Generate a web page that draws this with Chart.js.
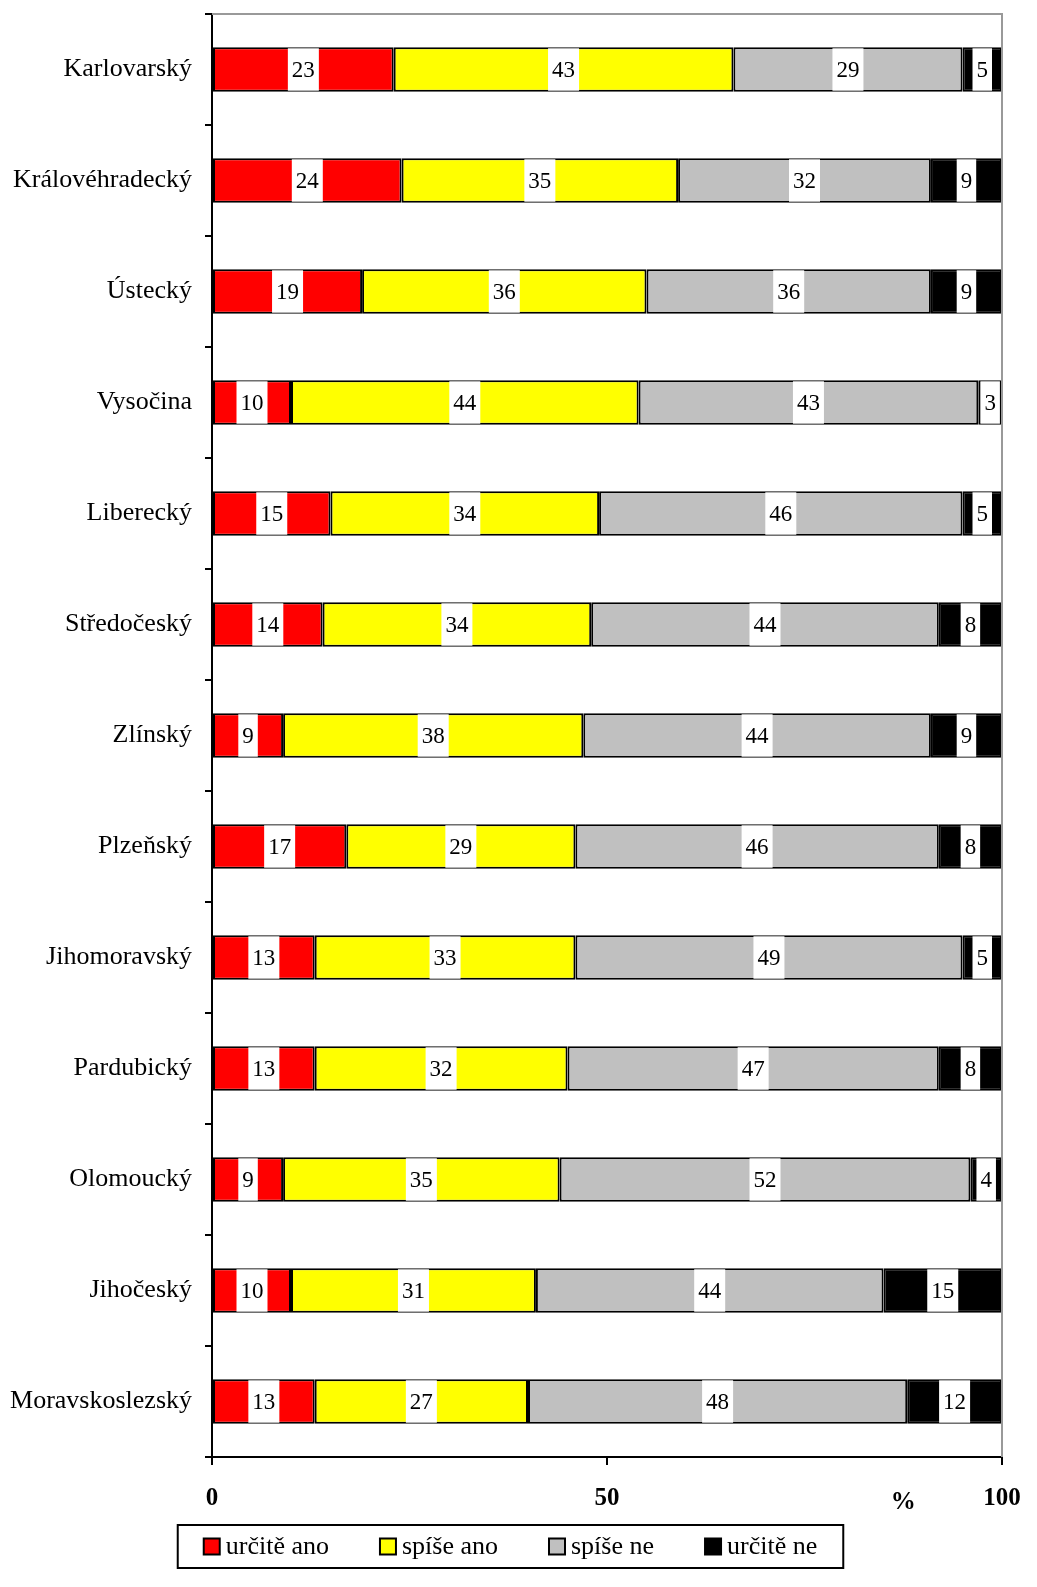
<!DOCTYPE html>
<html>
<head>
<meta charset="utf-8">
<script src="https://cdn.jsdelivr.net/npm/chart.js@4/dist/chart.umd.min.js"></script>
<style>
html, body { margin: 0; padding: 0; overflow: hidden; background: #fff; }
canvas { display: block; }
</style>
</head>
<body>
<canvas id="graf" width="1037" height="1587"></canvas>
<script>
// kraje
const kraje = ['Karlovarský', 'Královéhradecký', 'Ústecký', 'Vysočina', 'Liberecký', 'Středočeský',
    'Zlínský', 'Plzeňský', 'Jihomoravský', 'Pardubický', 'Olomoucký', 'Jihočeský', 'Moravskoslezský'];

// odpovědi v %
const urciteAno = [23, 24, 19, 10, 15, 14, 9, 17, 13, 13, 9, 10, 13];
const spiseAno  = [43, 35, 36, 44, 34, 34, 38, 29, 33, 32, 35, 31, 27];
const spiseNe   = [29, 32, 36, 43, 46, 44, 44, 46, 49, 47, 52, 44, 48];
const urciteNe  = [5, 9, 9, 3, 5, 8, 9, 8, 5, 8, 4, 15, 12];

const xTicks = [0, 50, 100];
const nazvy = ['určitě ano', 'spíše ano', 'spíše ne', 'určitě ne'];
const barvy = ['#ff0000', '#ffff00', '#c0c0c0', '#000000'];

const FONT = '"Liberation Serif", "Times New Roman", serif';
Chart.defaults.font.family = FONT;
Chart.defaults.color = '#000';

// popisky hodnot v bílém rámečku
const popisky = {
    id: 'popisky',
    afterDatasetsDraw(chart) {
        const ctx = chart.ctx;
        ctx.save();
        ctx.font = '23px ' + FONT;
        ctx.textAlign = 'center';
        ctx.textBaseline = 'middle';
        chart.data.datasets.forEach((ds, i) => {
            chart.getDatasetMeta(i).data.forEach((bar, j) => {
                const txt = String(ds.data[j]);
                const cx = (bar.x + bar.base) / 2;
                const w = ctx.measureText(txt).width + 8;
                const h = bar.height - 2;
                ctx.fillStyle = '#fff';
                ctx.fillRect(cx - w / 2, bar.y - h / 2, w, h);
                ctx.fillStyle = '#000';
                ctx.fillText(txt, cx, bar.y + 1);
            });
        });
        ctx.restore();
    }
};

// šedý rámeček nahoře a vpravo, znak %, legenda v rámečku
const ramecek = {
    id: 'ramecek',
    afterDraw(chart) {
        const ctx = chart.ctx;
        const a = chart.chartArea;
        ctx.save();
        ctx.strokeStyle = '#999';
        ctx.lineWidth = 2;
        ctx.beginPath();
        ctx.moveTo(a.left, a.top);
        ctx.lineTo(a.right, a.top);
        ctx.lineTo(a.right, a.bottom);
        ctx.stroke();

        // %
        const xs = chart.scales.x;
        ctx.font = 'bold 25px ' + FONT;
        ctx.fillStyle = '#000';
        ctx.textAlign = 'center';
        ctx.textBaseline = 'middle';
        ctx.fillText('%', xs.getPixelForValue(87.5), a.bottom + 46);

        // legenda
        ctx.font = '26px ' + FONT;
        ctx.textAlign = 'left';
        const box = 16, mezera = 6, rozestup = 51, okraj = 26;
        const sirky = nazvy.map(t => box + mezera + ctx.measureText(t).width);
        const celkem = sirky.reduce((s, w) => s + w, 0) + rozestup * (nazvy.length - 1) + 2 * okraj;
        const lx = chart.width / 2 - 8 - celkem / 2;
        const ly = chart.height - 62;
        const lh = 43;
        ctx.strokeStyle = '#000';
        ctx.lineWidth = 2;
        ctx.strokeRect(lx, ly, celkem, lh);
        let x = lx + okraj;
        const cy = ly + lh / 2;
        nazvy.forEach((t, i) => {
            ctx.fillStyle = barvy[i];
            ctx.fillRect(x, cy - box / 2, box, box);
            ctx.strokeStyle = '#000';
            ctx.lineWidth = 2;
            ctx.strokeRect(x, cy - box / 2, box, box);
            ctx.fillStyle = '#000';
            ctx.fillText(t, x + box + mezera, cy + 1);
            x += sirky[i] + rozestup;
        });
        ctx.restore();
    }
};

const sady = [urciteAno, spiseAno, spiseNe, urciteNe].map((d, i) => ({
    label: nazvy[i],
    data: d,
    backgroundColor: barvy[i],
    borderColor: '#000',
    borderWidth: 2,
    borderSkipped: false,
    barPercentage: 0.4,
    categoryPercentage: 1
}));

new Chart(document.getElementById('graf'), {
    type: 'bar',
    data: { labels: kraje, datasets: sady },
    options: {
        indexAxis: 'y',
        responsive: false,
        devicePixelRatio: 1,
        animation: false,
        layout: { padding: { left: 0, right: 35, top: 14, bottom: 70 } },
        plugins: {
            legend: { display: false },
            tooltip: { enabled: false }
        },
        scales: {
            x: {
                stacked: true,
                min: 0,
                max: 100,
                afterBuildTicks: (s) => { s.ticks = xTicks.map(v => ({ value: v })); },
                ticks: { font: { size: 25, weight: 'bold' }, padding: 19, maxRotation: 0 },
                grid: { drawOnChartArea: false, color: '#000', lineWidth: 2, tickLength: 8 },
                border: { color: '#000', width: 2 },
                afterFit: (s) => { s.height = 60; s.paddingLeft = 0; s.paddingRight = 0; }
            },
            y: {
                stacked: true,
                ticks: { font: { size: 26 }, padding: 13 },
                grid: { offset: true, drawOnChartArea: false, color: '#000', lineWidth: 2, tickLength: 7 },
                border: { color: '#000', width: 2 },
                afterFit: (s) => { s.width = 212; s.paddingTop = 0; s.paddingBottom = 0; }
            }
        }
    },
    plugins: [popisky, ramecek]
});
</script>
</body>
</html>
